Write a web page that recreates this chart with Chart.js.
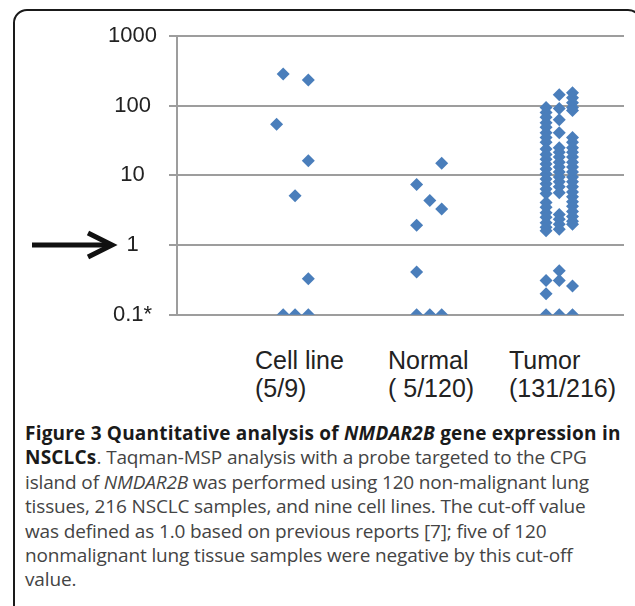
<!DOCTYPE html>
<html>
<head>
<meta charset="utf-8">
<script src="https://cdn.jsdelivr.net/npm/chart.js@4.4.1/dist/chart.umd.min.js"></script>
<style>
  html, body { margin: 0; padding: 0; background: #fff; }
  body { width: 635px; height: 606px; position: relative; overflow: hidden; }
  #frame {
    position: absolute; left: 13px; top: 9px; width: 629px; height: 660px;
    border: 2px solid #1a1a1a; border-radius: 14px; box-sizing: border-box;
  }
  #chartBox { position: absolute; left: 0; top: 0; width: 635px; height: 340px; }
  .cat {
    position: absolute; top: 346px;
    font-family: "Liberation Sans", Arial, sans-serif; font-size: 25px; line-height: 28px;
    color: #222; white-space: nowrap;
  }
  #caption {
    position: absolute; left: 25px; top: 421px;
    font-family: "Open Sans", Lato, sans-serif; font-size: 19px; line-height: 24.4px;
    color: #444; white-space: nowrap; letter-spacing: -0.15px;
  }
  #caption b { color: #1a1a1a; letter-spacing: 0.2px; }
</style>
</head>
<body>
<div id="frame"></div>
<div id="chartBox"><canvas id="figChart"></canvas></div>
<div id="labels"></div>
<div id="caption">
  <b>Figure 3 Quantitative analysis of <i>NMDAR2B</i> gene expression in</b><br>
  <b>NSCLCs</b>. Taqman-MSP analysis with a probe targeted to the CPG<br>
  island of <i>NMDAR2B</i> was performed using 120 non-malignant lung<br>
  tissues, 216 NSCLC samples, and nine cell lines. The cut-off value<br>
  was defined as 1.0 based on previous reports [7]; five of 120<br>
  nonmalignant lung tissue samples were negative by this cut-off<br>
  value.
</div>
<script>
// groups along the x axis
const categories = ['Cell line', 'Normal', 'Tumor'];
const categoryCounts = ['(5/9)', '( 5/120)', '(131/216)'];
const categoryX = [1, 2, 3];

// y tick values (log scale) and the cut-off marked by the arrow
const yTicks = [0.1, 1, 10, 100, 1000];
const cutoff = 1;

// values; each point has a small side offset (lane)
const cellLineValues = [285, 234, 54, 16.2, 5.1, 0.33, 0.1, 0.1, 0.1];
const cellLineLanes  = [-0.09, 0.1, -0.14, 0.1, 0, 0.1, -0.09, 0, 0.1];

const normalValues = [14.9, 7.4, 4.35, 3.3, 1.92, 0.41, 0.1, 0.1, 0.1];
const normalLanes  = [0.11, -0.08, 0.02, 0.11, -0.08, -0.08, -0.08, 0.02, 0.11];

const tumorLeft  = [94, 80, 68, 57, 49, 41, 35, 30, 24, 20, 17, 14.6, 12.4, 10.5, 8.9, 7.6, 6.4, 5.5,
                    4.1, 3.5, 2.9, 2.5, 2.1, 1.8, 1.6, 0.31, 0.2, 0.1];
const tumorMid   = [143, 91, 63, 41, 25, 21.5, 18.3, 15.5, 13.2, 11.2, 9.5, 8.1, 6.9, 5.65,
                    2.75, 2.34, 1.99, 1.69, 0.43, 0.31, 0.1];
const tumorRight = [153, 130, 110, 94, 85, 35, 30, 25, 21.5, 18.3, 15.5, 13.2, 11.2, 9.5, 8.1, 6.9,
                    5.8, 4.95, 4.2, 3.6, 3.04, 2.58, 2.19, 1.99, 0.26, 0.1];

const pointColor = '#4a7ebb';
const gridColor = '#9d9d9d';

function toPoints(center, values, lanes) {
  return values.map((v, i) => ({ x: center + lanes[i], y: v }));
}

const points = []
  .concat(toPoints(categoryX[0], cellLineValues, cellLineLanes))
  .concat(toPoints(categoryX[1], normalValues, normalLanes))
  .concat(toPoints(categoryX[2], tumorLeft, tumorLeft.map(() => -0.1)))
  .concat(toPoints(categoryX[2], tumorMid, tumorMid.map(() => 0)))
  .concat(toPoints(categoryX[2], tumorRight, tumorRight.map(() => 0.1)));

// category labels under the plot
const labelLeft = [255, 388, 509];
const labelsDiv = document.getElementById('labels');
categories.forEach((c, i) => {
  const d = document.createElement('div');
  d.className = 'cat';
  d.style.left = labelLeft[i] + 'px';
  d.innerHTML = c + '<br>' + categoryCounts[i];
  labelsDiv.appendChild(d);
});

// black arrow pointing at the cut-off tick
const arrowPlugin = {
  id: 'cutoffArrow',
  afterDraw(chart) {
    const ctx = chart.ctx;
    const y = chart.scales.y.getPixelForValue(cutoff);
    ctx.save();
    ctx.strokeStyle = '#111';
    ctx.lineWidth = 5;
    ctx.lineCap = 'butt';
    ctx.beginPath();
    ctx.moveTo(32, y);
    ctx.lineTo(111, y);
    ctx.stroke();
    ctx.lineJoin = 'miter';
    ctx.beginPath();
    ctx.moveTo(88, y - 12);
    ctx.lineTo(112, y);
    ctx.lineTo(88, y + 12);
    ctx.stroke();
    ctx.restore();
  }
};

new Chart(document.getElementById('figChart'), {
  type: 'scatter',
  data: {
    datasets: [{
      data: points,
      pointStyle: 'rectRot',
      pointRadius: 6.5,
      pointHoverRadius: 6.5,
      backgroundColor: pointColor,
      borderColor: pointColor,
      borderWidth: 0
    }]
  },
  options: {
    responsive: true,
    maintainAspectRatio: false,
    animation: false,
    layout: { padding: { left: 0, top: 36, right: 11, bottom: 22 } },
    plugins: { legend: { display: false }, tooltip: { enabled: false } },
    scales: {
      x: {
        type: 'linear',
        min: 0.106,
        max: 3.49,
        display: false
      },
      y: {
        type: 'logarithmic',
        min: 0.1,
        max: 1000,
        afterBuildTicks: (scale) => { scale.ticks = yTicks.map(v => ({ value: v })); },
        afterFit: (scale) => { scale.width = 177; },
        grid: { color: gridColor, lineWidth: 2, tickLength: 8 },
        border: { color: gridColor, width: 2 },
        ticks: {
          padding: 12,
          crossAlign: 'center',
          color: '#222',
          font: { family: '"Liberation Sans", Arial, sans-serif', size: 22 },
          callback: (v) => v === 0.1 ? '0.1*' : String(v)
        }
      }
    }
  },
  plugins: [arrowPlugin]
});
</script>
</body>
</html>
